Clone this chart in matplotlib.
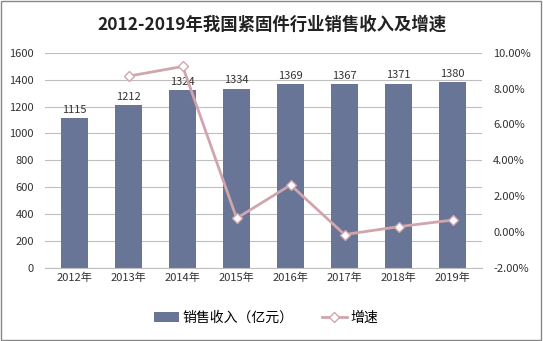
import numpy as np
import matplotlib.pyplot as plt
from matplotlib.ticker import FuncFormatter

plt.rcParams['font.family'] = ['Noto Sans CJK SC', 'DejaVu Sans']

years = ['2012年', '2013年', '2014年', '2015年', '2016年', '2017年', '2018年', '2019年']
revenue = [1115, 1212, 1324, 1334, 1369, 1367, 1371, 1380]
growth = [None, 8.70, 9.24, 0.76, 2.62, -0.15, 0.29, 0.66]

bar_color = '#687597'
line_color = '#D0A6AC'

fig = plt.figure(figsize=(5.43, 3.41), dpi=100)
ax = fig.add_axes([0.083, 0.215, 0.805, 0.63])

x = np.arange(len(years))
ax.bar(x, revenue, width=0.5, color=bar_color, zorder=2, label='销售收入（亿元）')
for xi, v in zip(x, revenue):
    ax.text(xi, v + 25, str(v), ha='center', va='bottom', fontsize=8, color='#333333')

ax.set_ylim(0, 1600)
ax.set_yticks(range(0, 1601, 200))
ax.set_xlim(-0.55, len(years) - 0.45)
ax.set_xticks(x)
ax.set_xticklabels(years)
ax.grid(axis='y', color='#BFBFBF', linewidth=0.8, zorder=0)
for s in ['top', 'right', 'left']:
    ax.spines[s].set_visible(False)
ax.spines['bottom'].set_color('#BFBFBF')
ax.tick_params(axis='both', length=0, labelsize=8, colors='#333333')
ax.tick_params(axis='y', pad=8)

ax2 = ax.twinx()
gx = [xi for xi, g in zip(x, growth) if g is not None]
gy = [g for g in growth if g is not None]
ax2.plot(gx, gy, color=line_color, linewidth=2, marker='D', markersize=5,
         markerfacecolor='white', markeredgecolor=line_color, zorder=3, label='增速')
ax2.set_ylim(-2, 10)
ax2.set_yticks(range(-2, 11, 2))
ax2.yaxis.set_major_formatter(FuncFormatter(lambda v, p: f'{v:.2f}%'))
for s in ['top', 'right', 'left', 'bottom']:
    ax2.spines[s].set_visible(False)
ax2.tick_params(axis='y', length=0, labelsize=8, colors='#333333', pad=8)

fig.suptitle('2012-2019年我国紧固件行业销售收入及增速', y=0.955, fontsize=12.5,
             fontweight='semibold', color='#222222')

h1, l1 = ax.get_legend_handles_labels()
h2, l2 = ax2.get_legend_handles_labels()
fig.legend(h1 + h2, l1 + l2, loc='lower center', bbox_to_anchor=(0.49, 0.01),
           ncol=2, frameon=False, fontsize=10, handlelength=1.8, handletextpad=0.3,
           columnspacing=2)

fig.patches.append(plt.Rectangle((0.002, 0.003), 0.994, 0.993, transform=fig.transFigure,
                                 fill=False, edgecolor='#888888', linewidth=1))

fig.savefig('out.png', dpi=100)
